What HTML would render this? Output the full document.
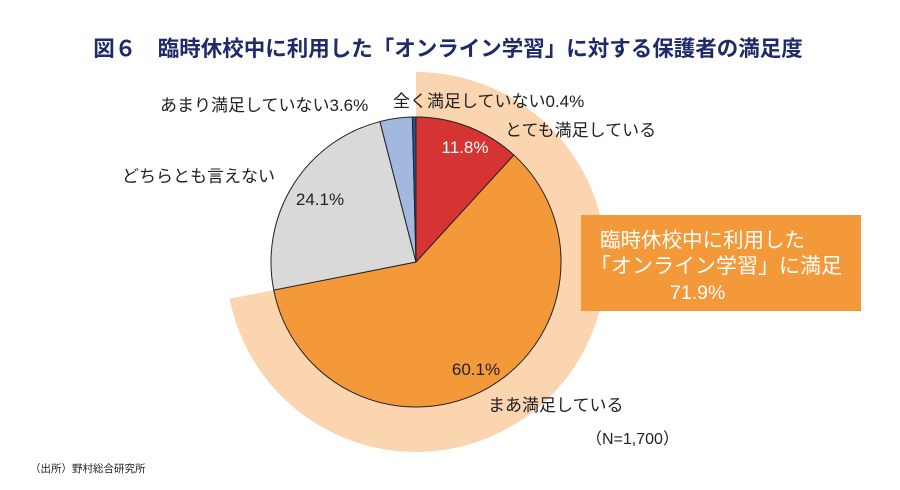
<!DOCTYPE html>
<html><head><meta charset="utf-8"><style>
body{margin:0;background:#fff;}
svg{display:block;font-family:"Liberation Sans","Noto Sans CJK JP",sans-serif;}
</style></head><body>
<svg id="c" width="900" height="490" viewBox="0 0 900 490">
<text x="448" y="56" text-anchor="middle" font-size="21.5" font-weight="bold" fill="#1f2a6b">図６　臨時休校中に利用した「オンライン学習」に対する保護者の満足度</text>
<g id="band"></g>
<g id="pie"></g>
<g id="labels"></g>
<rect x="581" y="215" width="280" height="96" fill="#f4993a"/>
<text x="600" y="247" font-size="20.5" fill="#fff">臨時休校中に利用した</text>
<text x="590" y="273" font-size="21" fill="#fff">「オンライン学習」に満足</text>
<text x="670" y="299" font-size="19.5" fill="#fff">71.9%</text>
<text x="586" y="444" font-size="16" fill="#222">（N=1,700）</text>
<text x="30" y="472" font-size="10.5" fill="#222">（出所）野村総合研究所</text>
</svg>
<script>
const categories=["とても満足している","まあ満足している","どちらとも言えない","あまり満足していない","全く満足していない"];
const values=[11.8,60.1,24.1,3.6,0.4];
const highlightValue=71.9;
const colors=["#d63333","#f4993a","#d9d9d9","#a3b8df","#2f4f8f"];
const NS="http://www.w3.org/2000/svg";
const cx=416,cy=262,r=145,R=190;
const total=values.reduce((a,b)=>a+b,0);
function pt(frac,rad){const a=frac*2*Math.PI;return [cx+rad*Math.sin(a),cy-rad*Math.cos(a)];}
function arcPath(f0,f1,rad){const[a,b]=pt(f0,rad),[c,d]=pt(f1,rad);const lg=(f1-f0)>0.5?1:0;return `M${cx},${cy}L${a},${b}A${rad},${rad} 0 ${lg} 1 ${c},${d}Z`;}
const band=document.createElementNS(NS,'path');
band.setAttribute('d',arcPath(0,highlightValue/100,R));
band.setAttribute('fill','#fbd5b0');


document.getElementById('band').appendChild(band);
const pie=document.getElementById('pie');
let acc=0;
values.forEach((v,i)=>{
 const f0=acc/total,f1=(acc+v)/total;acc+=v;
 const p=document.createElementNS(NS,'path');
 p.setAttribute('d',arcPath(f0,f1,r));
 p.setAttribute('fill',colors[i]);
 p.setAttribute('stroke','#222');p.setAttribute('stroke-width','1');
 
 
 pie.appendChild(p);
});
const lab=document.getElementById('labels');
function txt(x,y,s,col,anchor){const t=document.createElementNS(NS,'text');t.setAttribute('x',x);t.setAttribute('y',y);t.setAttribute('font-size','17');t.setAttribute('fill',col);if(anchor)t.setAttribute('text-anchor',anchor);t.textContent=s;


lab.appendChild(t);}
txt(465,153,values[0].toFixed(1)+'%','#fff','middle');
txt(476,375,values[1].toFixed(1)+'%','#222','middle');
txt(320,205,values[2].toFixed(1)+'%','#222','middle');
txt(505,136,categories[0],'#222');
txt(488,411,categories[1],'#222');
txt(122,182,categories[2],'#222');
txt(160,111,categories[3]+values[3].toFixed(1)+'%','#222');
txt(393,107,categories[4]+values[4].toFixed(1)+'%','#222');
</script>
</body></html>
